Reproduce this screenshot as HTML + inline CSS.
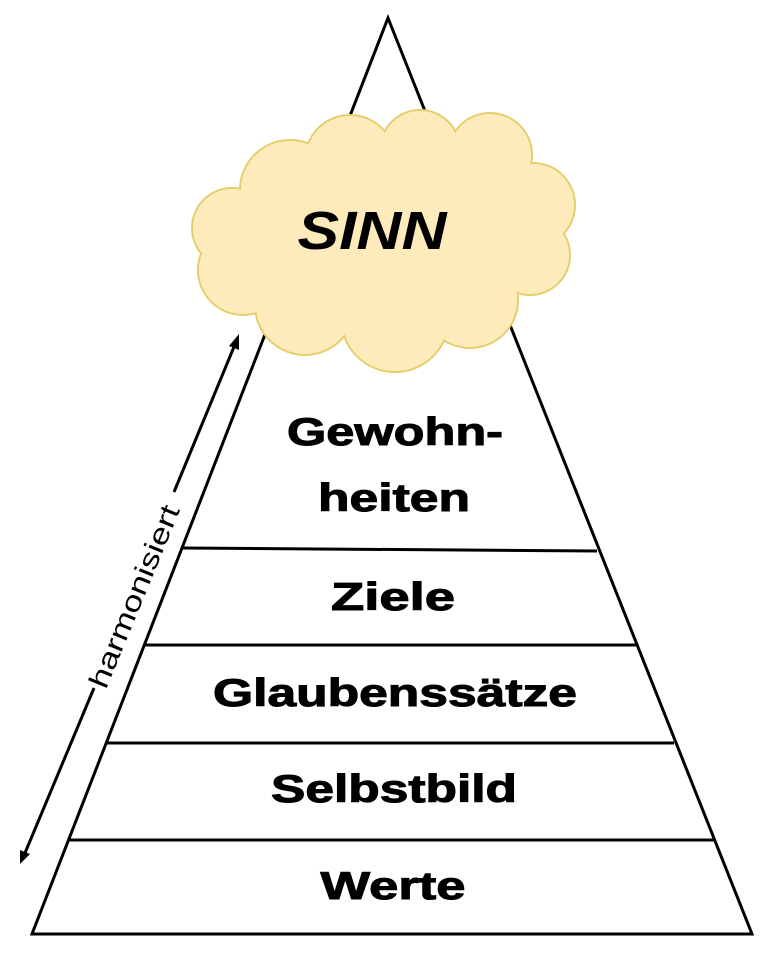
<!DOCTYPE html>
<html><head><meta charset="utf-8"><style>html,body{margin:0;padding:0;background:#fff}svg{display:block}</style></head>
<body>
<svg width="774" height="960" viewBox="0 0 774 960" xmlns="http://www.w3.org/2000/svg">
<rect width="774" height="960" fill="#fff"/>
<g stroke="#000" stroke-width="3" fill="none" stroke-linejoin="miter">
<polygon points="388,18 752,934 32,934"/>
<line x1="183" y1="548" x2="597" y2="551"/>
<line x1="145" y1="645" x2="636" y2="645"/>
<line x1="106" y1="743" x2="674" y2="743"/>
<line x1="68" y1="840" x2="714" y2="840"/>
</g>
<g stroke="#000" stroke-width="3">
<line x1="236" y1="342" x2="174" y2="492"/>
<line x1="94" y1="688" x2="25" y2="853"/>
</g>
<polygon points="239,334 229,346 239,350" fill="#000"/>
<polygon points="20,864 20,850 30,854" fill="#000"/>
<text x="0" y="0" transform="translate(143,600) rotate(-67.6)" text-anchor="middle" font-family="Liberation Sans, sans-serif" font-size="28" fill="#000" textLength="195" lengthAdjust="spacingAndGlyphs">harmonisiert</text>
<g fill="#fdebbb" stroke="#e5cd6a" stroke-width="2">
<circle cx="290" cy="190" r="50"/><circle cx="350" cy="160" r="45"/><circle cx="420" cy="150" r="40"/>
<circle cx="490" cy="155" r="42"/><circle cx="533" cy="205" r="42"/><circle cx="530" cy="255" r="40"/>
<circle cx="470" cy="300" r="48"/><circle cx="395" cy="318" r="54"/><circle cx="305" cy="305" r="50"/>
<circle cx="243" cy="270" r="45"/><circle cx="232" cy="228" r="40"/>
</g>
<g fill="#fdebbb">
<circle cx="290" cy="190" r="49"/><circle cx="350" cy="160" r="44"/><circle cx="420" cy="150" r="39"/>
<circle cx="490" cy="155" r="41"/><circle cx="533" cy="205" r="41"/><circle cx="530" cy="255" r="39"/>
<circle cx="470" cy="300" r="47"/><circle cx="395" cy="318" r="53"/><circle cx="305" cy="305" r="49"/>
<circle cx="243" cy="270" r="44"/><circle cx="232" cy="228" r="39"/>
<ellipse cx="385" cy="235" rx="150" ry="85"/>
</g>
<text x="372" y="249" text-anchor="middle" font-family="Liberation Sans, sans-serif" font-weight="bold" font-style="italic" font-size="54" fill="#000" textLength="149" lengthAdjust="spacingAndGlyphs">SINN</text>
<g font-family="Liberation Sans, sans-serif" font-weight="bold" font-size="39" fill="#000" text-anchor="middle" lengthAdjust="spacingAndGlyphs" stroke="#000" stroke-width="1">
<text x="395" y="445" textLength="216" lengthAdjust="spacingAndGlyphs">Gewohn-</text>
<text x="394" y="511" textLength="152" lengthAdjust="spacingAndGlyphs">heiten</text>
<text x="393" y="610" textLength="124" lengthAdjust="spacingAndGlyphs">Ziele</text>
<text x="395" y="706" textLength="364" lengthAdjust="spacingAndGlyphs">Glaubenssätze</text>
<text x="394" y="802" textLength="246" lengthAdjust="spacingAndGlyphs">Selbstbild</text>
<text x="393" y="899" textLength="145" lengthAdjust="spacingAndGlyphs">Werte</text>
</g>
</svg>
</body></html>
